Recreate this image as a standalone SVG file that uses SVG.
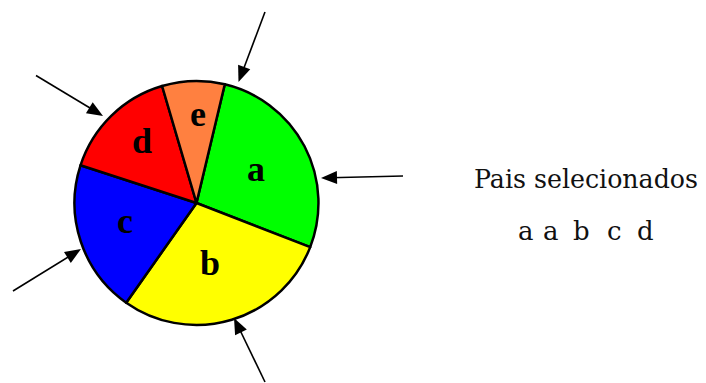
<svg xmlns="http://www.w3.org/2000/svg" width="706" height="383" viewBox="0 0 706 383">
<defs>
<style>
.w{stroke:#000;stroke-width:2.5;stroke-linejoin:round}
.lbl{font-family:'Liberation Serif','Times New Roman',serif;font-weight:bold;font-size:36px;text-anchor:middle;fill:#000}
.txt{font-family:'DejaVu Serif',serif;font-size:26px;fill:#111}
.arr{stroke:#000;stroke-width:1.6;fill:none}
.head{fill:#000}
</style>
<path id="hd" class="head" d="M0,0 L-16,-6.5 L-16,6.5 Z"/>
</defs>
<rect width="706" height="383" fill="#fff"/>
<g id="pie">
<g id="wedge-a"><path class="w" fill="#00ff00" d="M196.5,203 L224.8,84.3 A122,122 0 0 1 310.2,247.1 Z"/></g>
<g id="wedge-b"><path class="w" fill="#ffff00" d="M196.5,203 L310.2,247.1 A122,122 0 0 1 126.2,302.7 Z"/></g>
<g id="wedge-c"><path class="w" fill="#0000ff" d="M196.5,203 L126.2,302.7 A122,122 0 0 1 80.5,165.3 Z"/></g>
<g id="wedge-d"><path class="w" fill="#ff0000" d="M196.5,203 L80.5,165.3 A122,122 0 0 1 162.1,86 Z"/></g>
<g id="wedge-e"><path class="w" fill="#ff8040" d="M196.5,203 L162.1,86 A122,122 0 0 1 224.8,84.3 Z"/></g>
<text class="lbl" x="256" y="181">a</text>
<text class="lbl" x="210" y="275">b</text>
<text class="lbl" x="125" y="233">c</text>
<text class="lbl" x="142" y="153">d</text>
<text class="lbl" x="198" y="126">e</text>
</g>
<g id="connectors">
<line class="arr" x1="265" y1="12" x2="242" y2="73"/>
<use href="#hd" transform="translate(238.5,82) rotate(110.8)"/>
<line class="arr" x1="36" y1="75.5" x2="95" y2="111"/>
<use href="#hd" transform="translate(103,116) rotate(31.2)"/>
<line class="arr" x1="403" y1="176" x2="330" y2="177.8"/>
<use href="#hd" transform="translate(321,178) rotate(178.6)"/>
<line class="arr" x1="13" y1="291" x2="73" y2="254"/>
<use href="#hd" transform="translate(81,249) rotate(-31.7)"/>
<line class="arr" x1="265" y1="382" x2="238" y2="326"/>
<use href="#hd" transform="translate(234,318) rotate(-115.8)"/>
</g>
<g id="caption">
<text class="txt" x="474" y="188" textLength="224" lengthAdjust="spacingAndGlyphs">Pais selecionados</text>
<text class="txt" y="240"><tspan x="518">a</tspan> <tspan x="543">a</tspan> <tspan x="573">b</tspan> <tspan x="607">c</tspan> <tspan x="637">d</tspan></text>
</g>
</svg>
